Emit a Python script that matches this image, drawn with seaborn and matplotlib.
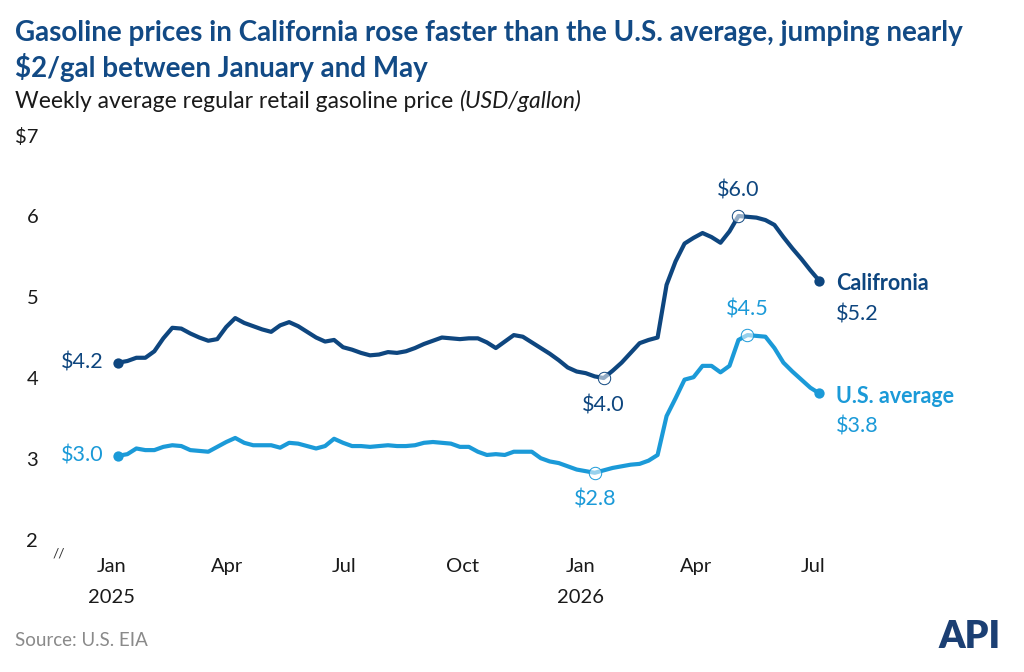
import matplotlib
matplotlib.use("Agg")
import matplotlib.pyplot as plt
import seaborn as sns
import pandas as pd

# ---------------- data ----------------
start_date = "2025-01-06"
california = [4.19, 4.21, 4.25, 4.25, 4.33, 4.49, 4.62, 4.61, 4.55, 4.50,
              4.46, 4.48, 4.63, 4.74, 4.68, 4.64, 4.60, 4.57, 4.65, 4.69,
              4.64, 4.57, 4.50, 4.45, 4.47, 4.38, 4.35, 4.31, 4.28, 4.29,
              4.32, 4.31, 4.33, 4.37, 4.42, 4.46, 4.50, 4.49, 4.48, 4.49,
              4.49, 4.44, 4.37, 4.45, 4.53, 4.51, 4.44, 4.37, 4.30, 4.22,
              4.13, 4.08, 4.06, 4.02, 4.00, 4.09, 4.19, 4.31, 4.43, 4.47,
              4.50, 5.15, 5.44, 5.66, 5.73, 5.79, 5.74, 5.67, 5.81, 6.00,
              5.99, 5.98, 5.95, 5.89, 5.74, 5.60, 5.47, 5.33, 5.20]
us_average = [3.04, 3.06, 3.13, 3.11, 3.11, 3.15, 3.17, 3.16, 3.11, 3.10,
              3.09, 3.15, 3.21, 3.26, 3.20, 3.17, 3.17, 3.17, 3.14, 3.20,
              3.19, 3.16, 3.13, 3.16, 3.25, 3.20, 3.16, 3.16, 3.15, 3.16,
              3.17, 3.16, 3.16, 3.17, 3.20, 3.21, 3.20, 3.19, 3.15, 3.15,
              3.09, 3.05, 3.06, 3.05, 3.09, 3.09, 3.09, 3.01, 2.97, 2.95,
              2.91, 2.87, 2.85, 2.83, 2.86, 2.89, 2.91, 2.93, 2.94, 2.98,
              3.05, 3.53, 3.75, 3.98, 4.01, 4.15, 4.15, 4.07, 4.15, 4.47,
              4.53, 4.52, 4.51, 4.37, 4.19, 4.08, 3.98, 3.88, 3.81]
series_names = ["Califronia", "U.S. average"]
x_tick_dates = ["2025-01-01", "2025-04-01", "2025-07-01", "2025-10-01",
                "2026-01-01", "2026-04-01", "2026-07-01"]
x_tick_labels = ["Jan\n2025", "Apr", "Jul", "Oct", "Jan\n2026", "Apr", "Jul"]
y_ticks = [2, 3, 4, 5, 6, 7]
y_tick_labels = ["2", "3", "4", "5", "6", "$7"]

title_line1 = "Gasoline prices in California rose faster than the U.S. average, jumping nearly"
title_line2 = "$2/gal between January and May"
subtitle_main = "Weekly average regular retail gasoline price "
subtitle_unit = "(USD/gallon)"
source_text = "Source: U.S. EIA"

# ---------------- style ----------------
CA_COLOR = "#0E467F"
US_COLOR = "#1B9AD8"
TITLE_COLOR = "#124A85"
TEXT_COLOR = "#1A1A1A"

sns.set_theme(style="white")
plt.rcParams['font.family'] = ['Lato', 'DejaVu Sans']

n = len(california)
dates = pd.date_range(start_date, periods=n, freq="7D")
df = pd.DataFrame({
    "date": list(dates) * 2,
    "price": california + us_average,
    "series": [series_names[0]] * n + [series_names[1]] * n,
})

fig = plt.figure(figsize=(10.24, 6.72), dpi=100)
ax = fig.add_axes([0.0943, 0.1964, 0.7234, 0.6027])

sns.lineplot(data=df, x="date", y="price", hue="series",
             palette={series_names[0]: CA_COLOR, series_names[1]: US_COLOR},
             linewidth=3.0, ax=ax, legend=False)
for ln in ax.get_lines():
    ln.set_solid_joinstyle("round")
    ln.set_solid_capstyle("round")

ax.set_xlim(pd.Timestamp("2024-12-20"), pd.Timestamp("2026-07-20"))
ax.set_ylim(2, 7)
ax.set_xticks([pd.Timestamp(d) for d in x_tick_dates])
ax.set_xticklabels(x_tick_labels, fontsize=14.5, color=TEXT_COLOR, linespacing=2.0)
ax.set_yticks(y_ticks)
ax.set_yticklabels(y_tick_labels, fontsize=14.5, color=TEXT_COLOR)
ax.tick_params(axis="x", length=0, pad=13)
ax.tick_params(axis="y", length=0, pad=42)
for lbl in ax.get_yticklabels():
    lbl.set_horizontalalignment("right")
ax.set_xlabel("")
ax.set_ylabel("")
for s in ax.spines.values():
    s.set_visible(False)
ax.grid(False)

series = [(california, CA_COLOR), (us_average, US_COLOR)]
FS = 15.5

# endpoints
for vals, col in series:
    ax.scatter([dates[0], dates[-1]], [vals[0], vals[-1]], s=55, color=col,
               zorder=5, linewidths=0)

# hollow circles at min / max
for vals, col in series:
    i_min = min(range(40, n), key=lambda i: vals[i])
    i_max = max(range(n), key=lambda i: vals[i])
    ax.scatter([dates[i_min], dates[i_max]], [vals[i_min], vals[i_max]], s=80,
               facecolors=(1, 1, 1, 0.55), edgecolors=col, linewidths=0.7, zorder=6)
    ax.annotate(f"${vals[i_min]:.1f}", (dates[i_min], vals[i_min]),
                xytext=(0, -19.5), textcoords="offset points", ha="center",
                va="center", fontsize=FS, color=col)
    ax.annotate(f"${vals[i_max]:.1f}", (dates[i_max], vals[i_max]),
                xytext=(0, 18.5), textcoords="offset points", ha="center",
                va="center", fontsize=FS, color=col)
    ax.annotate(f"${vals[0]:.1f}", (dates[0], vals[0]),
                xytext=(-11, 0), textcoords="offset points", ha="right",
                va="center", fontsize=FS, color=col)

# end labels
for (vals, col), name in zip(series, series_names):
    ax.annotate(name, (dates[-1], vals[-1]), xytext=(12, -2),
                textcoords="offset points", ha="left", va="center",
                fontsize=FS, fontweight="bold", color=col,
                annotation_clip=False)
    ax.annotate(f"${vals[-1]:.1f}", (dates[-1], vals[-1]), xytext=(12, -24),
                textcoords="offset points", ha="left", va="center",
                fontsize=FS, color=col, annotation_clip=False)

# titles
H = 672.0
fig.text(15 / 1024, 1 - 33 / H, title_line1, fontsize=20, fontweight="bold",
         color=TITLE_COLOR, va="center", ha="left")
fig.text(15 / 1024, 1 - 68 / H, title_line2, fontsize=20, fontweight="bold",
         color=TITLE_COLOR, va="center", ha="left")
t1 = fig.text(15 / 1024, 1 - 101 / H, subtitle_main, fontsize=16.5,
              color=TEXT_COLOR, va="center", ha="left")
fig.canvas.draw()
bb = t1.get_window_extent(renderer=fig.canvas.get_renderer())
fig.text(bb.x1 / 1024, 1 - 101 / H, subtitle_unit, fontsize=16.5, style="italic",
         color=TEXT_COLOR, va="center", ha="left")

# axis break mark
fig.text(59 / 1024, 1 - 553 / H, "//", fontsize=10, color="#333333",
         va="center", ha="center")

# source
fig.text(15 / 1024, 1 - 640 / H, source_text, fontsize=13.5, color="#8A8A8A",
         va="center", ha="left")

# API logo (text)
fig.text(970 / 1024, 1 - 637 / H, "API", fontsize=27, fontweight="heavy",
         color="#1B3F73", va="center", ha="center")

fig.savefig("out.png", dpi=100)
